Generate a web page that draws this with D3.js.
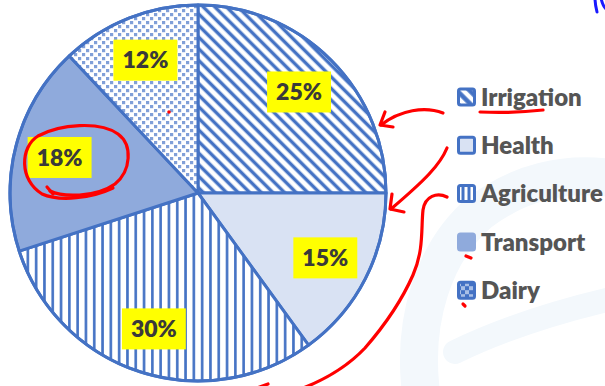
<!DOCTYPE html>
<html>
<head>
<meta charset="utf-8">
<script src="https://cdn.jsdelivr.net/npm/d3@7"></script>
<style>
  html, body { margin: 0; padding: 0; background: #fff; }
  svg { display: block; font-family: Lato, 'Open Sans', sans-serif; }
</style>
</head>
<body>
<div id="chart"></div>
<script>
// Spending share by sector (clockwise from 12 o'clock)
const categories = ['Irrigation', 'Health', 'Agriculture', 'Transport', 'Dairy'];
const shares     = [25, 15, 30, 18, 12];
const sliceFills = ['url(#pat-irrigation)', '#D9E2F3', 'url(#pat-agriculture)', '#8FAADC', 'url(#pat-dairy)'];
const legendFills = ['url(#leg-irrigation)', '#D9E2F3', 'url(#leg-agriculture)', '#8FAADC', 'url(#leg-dairy)'];

const W = 605, H = 386;
const CX = 198, CY = 193, R = 188;
const BLUE = '#4472C4';
const LEGEND = { x: 457, y: 97, step: 48.3, size: 19 };

// hand-drawn red marks that sit on top of the printed chart
const RED_MARKS = [
  'M443,113 C425,106 400,110 381,125', 'M385,112 L380,125 L393,127',
  'M447,148 C440,165 425,180 391,209', 'M392,194 L390,209 L404,212',
  'M447,197 C437,192 425,196 423,210 C421,228 424,250 413,275 C402,300 385,325 365,348 C348,366 325,380 298,390',
  'M50,191 C62,197 95,198 115,184 C131,171 133,145 118,134 C100,121 60,124 38,136 C20,147 19,180 42,194 C60,202 92,198 113,188',
  'M47,187 L53,194',
  'M480,112 C500,113 525,112 543,110',
  'M466,256 L471,258', 'M463,304 L465,306', 'M257,388 L268,384'
];

const svg = d3.select('#chart').append('svg')
  .attr('width', W)
  .attr('height', H);

const defs = svg.append('defs');

function stripePattern(id, size, width, angle, bg, fg) {
  const p = defs.append('pattern')
    .attr('id', id)
    .attr('patternUnits', 'userSpaceOnUse')
    .attr('width', size).attr('height', size)
    .attr('patternTransform', `rotate(${angle})`);
  p.append('rect').attr('width', size).attr('height', size).attr('fill', bg);
  p.append('rect').attr('x', (size - width) / 2).attr('width', width).attr('height', size).attr('fill', fg);
}

function dotPattern(id, size, dot, bg, fg) {
  const p = defs.append('pattern')
    .attr('id', id)
    .attr('patternUnits', 'userSpaceOnUse')
    .attr('width', size).attr('height', size);
  p.append('rect').attr('width', size).attr('height', size).attr('fill', bg);
  p.append('rect').attr('width', dot).attr('height', dot).attr('fill', fg);
  p.append('rect').attr('x', size / 2).attr('y', size / 2).attr('width', dot).attr('height', dot).attr('fill', fg);
}

stripePattern('pat-irrigation', 8.2, 3.4, -45, '#fff', BLUE);
stripePattern('pat-agriculture', 8.3, 2.6, 0, '#fff', BLUE);
dotPattern('pat-dairy', 8, 3.2, '#fff', '#809FD8');
stripePattern('leg-irrigation', 9, 4.5, -45, '#fff', BLUE);
stripePattern('leg-agriculture', 6, 3, 0, BLUE, '#fff');
dotPattern('leg-dairy', 8, 4, BLUE, '#A9BFE6');

// faint watermark behind everything
const wm = svg.append('g').attr('fill', 'none').attr('stroke', '#F3F8FC').attr('stroke-linecap', 'round');
wm.append('path').attr('d', 'M422,400 C410,320 435,250 480,212 C520,182 565,172 610,178').attr('stroke-width', 38);
wm.append('path').attr('d', 'M455,352 C500,330 555,312 615,298').attr('stroke-width', 24);

// pie
const pie = d3.pie().sort(null).value(d => d)(shares);
const arc = d3.arc().innerRadius(0).outerRadius(R);
const labelArc = d3.arc().innerRadius(R * 0.76).outerRadius(R * 0.76);

const g = svg.append('g').attr('transform', `translate(${CX},${CY})`);

g.selectAll('.slice')
  .data(pie)
  .join('path')
    .attr('class', 'slice')
    .attr('d', arc)
    .attr('fill', (d, i) => sliceFills[i])
    .attr('stroke', BLUE)
    .attr('stroke-width', 3)
    .attr('stroke-linejoin', 'round');

g.append('circle').attr('r', R).attr('fill', 'none').attr('stroke', BLUE).attr('stroke-width', 3);

// data labels on yellow boxes
const lab = g.selectAll('.slice-label')
  .data(pie)
  .join('g')
    .attr('class', 'slice-label')
    .attr('transform', d => `translate(${labelArc.centroid(d)})`);

lab.append('rect').attr('fill', '#FFFF00');
lab.append('text')
  .attr('text-anchor', 'middle')
  .attr('dy', '0.36em')
  .attr('fill', '#3a3a3a')
  .style('font-size', '23px')
  .style('font-weight', 800)
  .text(d => d.data + '%');

lab.each(function() {
  const t = d3.select(this).select('text').node();
  const w = t.getComputedTextLength() + 18;
  d3.select(this).select('rect')
    .attr('x', -w / 2).attr('y', -20.5)
    .attr('width', w).attr('height', 41);
});

// legend
const leg = svg.append('g').selectAll('.legend-item')
  .data(categories)
  .join('g')
    .attr('class', 'legend-item')
    .attr('transform', (d, i) => `translate(${LEGEND.x},${LEGEND.y + i * LEGEND.step})`);

leg.append('rect')
  .attr('x', 1.5).attr('y', -LEGEND.size / 2 + 1.5)
  .attr('width', LEGEND.size - 3).attr('height', LEGEND.size - 3)
  .attr('rx', 2)
  .attr('fill', (d, i) => legendFills[i])
  .attr('stroke', (d, i) => i === 3 ? '#8FAADC' : BLUE)
  .attr('stroke-width', 3);

leg.append('text')
  .attr('x', LEGEND.size + 5)
  .attr('dy', '0.36em')
  .attr('fill', '#555555')
  .style('font-size', '24px')
  .style('font-weight', 800)
  .text(d => d);

// annotations
const ann = svg.append('g')
  .attr('fill', 'none')
  .attr('stroke', '#FF0000')
  .attr('stroke-width', 3.2)
  .attr('stroke-linecap', 'round')
  .attr('stroke-linejoin', 'round');
RED_MARKS.forEach(d => ann.append('path').attr('d', d));
svg.append('circle').attr('cx', 169).attr('cy', 112).attr('r', 1.8).attr('fill', '#FF0000');

const blue = svg.append('g').attr('fill', 'none').attr('stroke', '#1a1aff').attr('stroke-width', 3).attr('stroke-linecap', 'round');
blue.append('path').attr('d', 'M595,-2 C595,4 596,8 597,12');
blue.append('path').attr('d', 'M601,-2 C602,3 603,6 606,9');
</script>
</body>
</html>
